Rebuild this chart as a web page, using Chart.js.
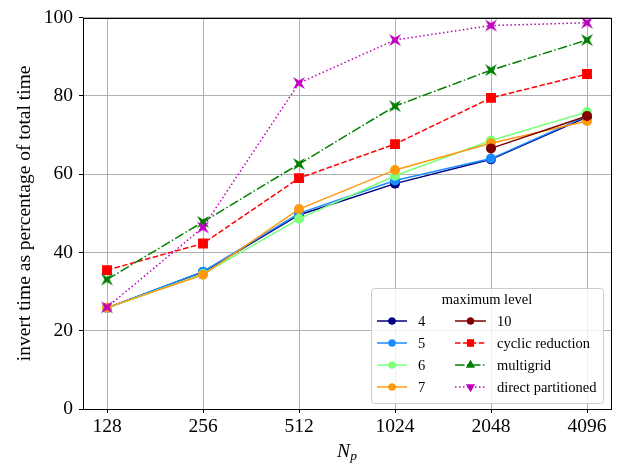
<!DOCTYPE html>
<html>
<head>
<meta charset="utf-8">
<script src="https://cdn.jsdelivr.net/npm/chart.js@4"></script>
<style>
  html, body { margin: 0; padding: 0; background: #fff; }
  #wrap { width: 624px; height: 468px; }
</style>
</head>
<body>
<div id="wrap"><canvas id="timeChart" width="624" height="468"></canvas></div>
<script>
// processor counts along the x axis (log2 spaced)
const npValues = [128, 256, 512, 1024, 2048, 4096];
const yTicks = [0, 20, 40, 60, 80, 100];

// invert time as % of total time, one list per solver
const level4 = [25.8, 35.0, 49.6, 57.6, 63.8, 74.6];
const level5 = [25.8, 35.1, 50.0, 58.4, 64.0, 74.9];
const level6 = [25.8, 34.5, 48.6, 59.6, 68.6, 75.9];
const level7 = [25.9, 34.3, 51.1, 61.1, 67.9, 73.6];
// level 10 only runs on the two largest grids
const level10 = [null, null, null, null, 66.6, 74.9];
const cyclicReduction = [35.5, 42.3, 59.0, 67.7, 79.5, 85.6];
const multigrid = [33.1, 47.8, 62.6, 77.4, 86.6, 94.3];
const directPartitioned = [26.0, 46.4, 83.3, 94.3, 98.0, 98.7];

const SERIF = '"Liberation Serif", "DejaVu Serif", serif';
Chart.defaults.font.family = SERIF;
Chart.defaults.color = '#000';

// small bow-tie marker used for the triangle series
function starMarker(color) {
    const c = document.createElement('canvas');
    c.width = 14; c.height = 14;
    const g = c.getContext('2d');
    g.fillStyle = color;
    g.beginPath();
    g.moveTo(1, 1); g.lineTo(7, 4.5); g.lineTo(13, 1); g.lineTo(9.5, 7);
    g.lineTo(13, 13); g.lineTo(7, 9.5); g.lineTo(1, 13); g.lineTo(4.5, 7);
    g.closePath();
    g.fill();
    return c;
}

const toPoints = vals => vals.map((v, i) => ({ x: Math.log2(npValues[i]), y: v }));

const series = [
    { label: '4', data: level4, color: '#000080', dash: [], style: 'circle', legendStyle: 'circle' },
    { label: '5', data: level5, color: '#1a8cff', dash: [], style: 'circle', legendStyle: 'circle' },
    { label: '6', data: level6, color: '#7dff7a', dash: [], style: 'circle', legendStyle: 'circle' },
    { label: '7', data: level7, color: '#ff9a10', dash: [], style: 'circle', legendStyle: 'circle' },
    { label: '10', data: level10, color: '#800000', dash: [], style: 'circle', legendStyle: 'circle' },
    { label: 'cyclic reduction', data: cyclicReduction, color: '#ff0000', dash: [5.5, 2.4], style: 'rect', legendStyle: 'rect' },
    { label: 'multigrid', data: multigrid, color: '#008000', dash: [9.6, 2.4, 1.5, 2.4], style: 'star', legendStyle: 'triangle' },
    { label: 'direct partitioned', data: directPartitioned, color: '#bf00bf', dash: [1.5, 2.5], style: 'star', legendStyle: 'triangleDown' }
];

const datasets = series.map((s, i) => ({
    label: s.label,
    data: toPoints(s.data),
    borderColor: s.color,
    backgroundColor: s.color,
    borderWidth: 1.5,
    borderDash: s.dash,
    pointStyle: s.style === 'star' ? starMarker(s.color) : s.style,
    pointRadius: s.style === 'rect' ? 7 : 5,
    pointBorderWidth: 0,
    pointBackgroundColor: s.color,
    tension: 0,
    spanGaps: false,
    order: series.length - i
}));

// frame, x title and the boxed legend inside the plot
const decorations = {
    id: 'decorations',
    afterDatasetsDraw(chart) {
        const { ctx, chartArea: a } = chart;
        ctx.save();
        ctx.strokeStyle = '#000';
        ctx.lineWidth = 1;
        ctx.strokeRect(Math.round(a.left) + 0.5, Math.round(a.top) + 0.5,
            Math.round(a.right - a.left), Math.round(a.bottom - a.top));

        // N_p
        ctx.fillStyle = '#000';
        ctx.textBaseline = 'alphabetic';
        ctx.textAlign = 'left';
        ctx.font = 'italic 19.5px ' + SERIF;
        const cx = (a.left + a.right) / 2;
        const nw = ctx.measureText('N').width;
        ctx.font = 'italic 13.5px ' + SERIF;
        const pw = ctx.measureText('p').width;
        const x0 = cx - (nw + pw) / 2;
        ctx.font = 'italic 19.5px ' + SERIF;
        ctx.fillText('N', x0, 457);
        ctx.font = 'italic 13.5px ' + SERIF;
        ctx.fillText('p', x0 + nw, 460);

        // legend
        const box = { x: 371, y: 288, w: 232, h: 115 };
        ctx.beginPath();
        ctx.roundRect(box.x + 0.5, box.y + 0.5, box.w, box.h, 3);
        ctx.fillStyle = 'rgba(255,255,255,0.8)';
        ctx.fill();
        ctx.strokeStyle = '#cccccc';
        ctx.stroke();

        ctx.fillStyle = '#000';
        ctx.font = '14.5px ' + SERIF;
        ctx.textAlign = 'center';
        ctx.textBaseline = 'middle';
        ctx.fillText('maximum level', 487, 300);

        const rows = [321, 343, 365, 387];
        const cols = [{ x1: 377, x2: 407, tx: 418 }, { x1: 455, x2: 486, tx: 497 }];
        series.forEach((s, i) => {
            const col = cols[i < 4 ? 0 : 1];
            const y = rows[i % 4];
            ctx.save();
            ctx.strokeStyle = s.color;
            ctx.lineWidth = 1.5;
            ctx.setLineDash(s.dash);
            ctx.beginPath();
            ctx.moveTo(col.x1, y);
            ctx.lineTo(col.x2, y);
            ctx.stroke();
            ctx.setLineDash([]);
            ctx.fillStyle = s.color;
            const mx = (col.x1 + col.x2) / 2;
            if (s.legendStyle === 'triangleDown') {
                Chart.helpers.drawPoint(ctx, { pointStyle: 'triangle', radius: 5, rotation: 180, borderWidth: 0 }, mx, y);
            } else {
                Chart.helpers.drawPoint(ctx, { pointStyle: s.legendStyle, radius: s.legendStyle === 'circle' ? 3.6 : 5, rotation: 0, borderWidth: 0 }, mx, y);
            }
            ctx.fill();
            ctx.restore();
            ctx.fillStyle = '#000';
            ctx.textAlign = 'left';
            ctx.textBaseline = 'middle';
            ctx.fillText(s.label, col.tx, y + 1);
        });
        ctx.restore();
    }
};

new Chart(document.getElementById('timeChart'), {
    type: 'line',
    data: { datasets },
    options: {
        responsive: false,
        animation: false,
        layout: { padding: { top: 15, right: 13, left: 0, bottom: 0 } },
        plugins: { legend: { display: false }, tooltip: { enabled: false } },
        scales: {
            x: {
                type: 'linear',
                min: 6.75,
                max: 12.25,
                afterBuildTicks: scale => { scale.ticks = npValues.map(n => ({ value: Math.log2(n) })); },
                afterFit: scale => { scale.height = 59; },
                ticks: {
                    callback: v => String(Math.round(2 ** v)),
                    font: { size: 19.5 },
                    padding: 2,
                    maxRotation: 0
                },
                grid: { color: '#b0b0b0', lineWidth: 1, tickColor: '#000', tickLength: 4 },
                border: { display: false }
            },
            y: {
                min: 0,
                max: 100,
                afterBuildTicks: scale => { scale.ticks = yTicks.map(v => ({ value: v })); },
                afterFit: scale => { scale.width = 83; },
                ticks: { font: { size: 19.5 }, padding: 6 },
                grid: { color: '#b0b0b0', lineWidth: 1, tickColor: '#000', tickLength: 4 },
                border: { display: false },
                title: {
                    display: true,
                    text: 'invert time as percentage of total time',
                    font: { size: 19.5 },
                    padding: { top: 13, bottom: 0 }
                }
            }
        }
    },
    plugins: [decorations]
});
</script>
</body>
</html>
